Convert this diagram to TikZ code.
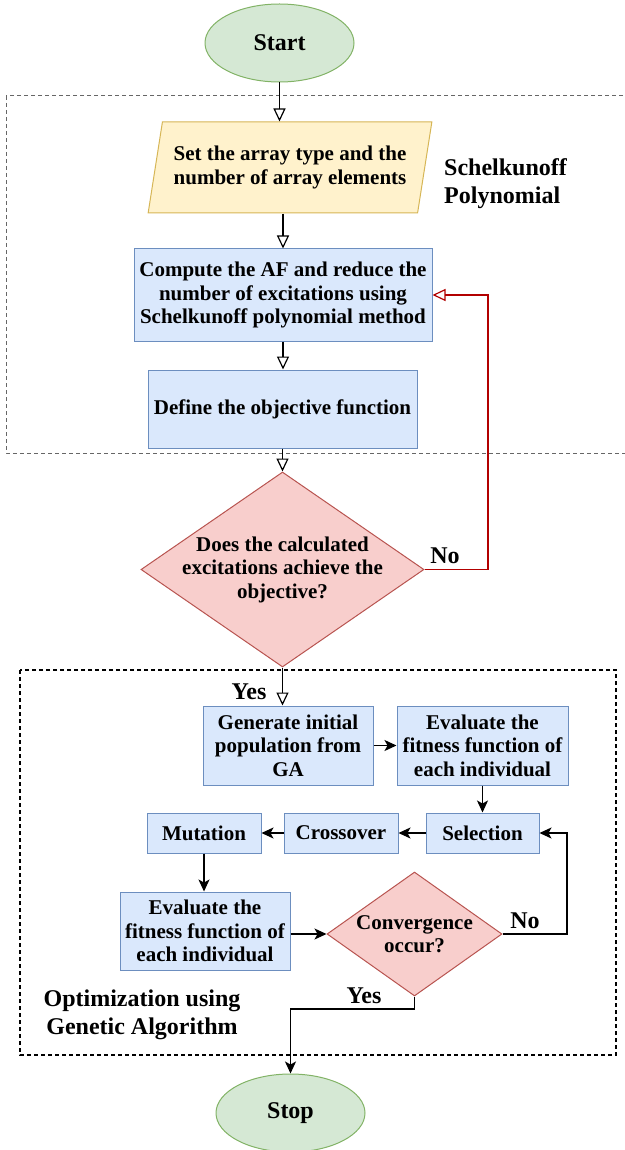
\documentclass[tikz,border=0pt]{standalone}
\usepackage{fontspec}
\setmainfont{Liberation Serif}
\usepackage{tikz}
\usetikzlibrary{shapes.geometric,arrows.meta,positioning}

\definecolor{termfill}{HTML}{D5E8D4}
\definecolor{termline}{HTML}{82B366}
\definecolor{inputfill}{HTML}{FFF2CC}
\definecolor{inputline}{HTML}{D6B656}
\definecolor{procfill}{HTML}{DAE8FC}
\definecolor{procline}{HTML}{6C8EBF}
\definecolor{askfill}{HTML}{F8CECC}
\definecolor{askline}{HTML}{B85450}
\definecolor{loopred}{HTML}{B20000}

\newcommand{\boxfont}{\fontsize{21}{23.5}\selectfont\bfseries}
\newcommand{\tagfont}{\fontsize{24}{28}\selectfont\bfseries}

\tikzset{
    term/.style={ellipse, draw=termline, fill=termfill, line width=1pt, inner sep=0pt, font=\tagfont},
    proc/.style={rectangle, draw=procline, fill=procfill, line width=1pt, inner sep=0pt, align=center, font=\boxfont},
    ask/.style={diamond, draw=askline, fill=askfill, line width=1pt, inner sep=-18pt, align=center, font=\boxfont},
    tag/.style={inner sep=0pt, align=center, font=\tagfont},
    openarrow/.style={line width=1.2pt, -{Triangle[open, length=13pt, width=12pt]}},
    fillarrow/.style={line width=1.2pt, -{Stealth[length=12pt, width=11pt, inset=3pt]}},
}

\begin{document}
\begin{tikzpicture}[x=1pt, y=-1pt]

        \useasboundingbox (0,0) rectangle (624,1150);

        \draw[black!60, line width=1pt, dash pattern=on 4pt off 3pt] (6,96) rectangle (640,453);

        \draw[black, line width=1.2pt, dash pattern=on 4pt off 3pt] (20,670) rectangle (616,1055);

        \node[term, minimum width=149pt, minimum height=78pt] (start) at (279.5,43) {Start};

        \node[trapezium, trapezium left angle=73, trapezium right angle=107, trapezium stretches=true,
              draw=inputline, fill=inputfill, line width=1pt, inner sep=0pt, align=center, font=\boxfont,
              minimum width=284pt, minimum height=91pt] (setarray) at (290,167.5)
              {Set the array type and the\\number of array elements};

        \node[tag, anchor=west, align=left] (schel) at (444,184) {Schelkunoff\\Polynomial};

        \node[proc, minimum width=298pt, minimum height=92pt] (compute) at (283,295)
              {Compute the AF and reduce the\\number of excitations using\\Schelkunoff polynomial method};

        \node[proc, minimum width=269pt, minimum height=78pt] (objective) at (282.5,409)
              {Define the objective function};

        \node[ask, aspect=1.45, minimum width=283pt, minimum height=195pt] (check) at (282.5,569.5)
              {Does the calculated\\excitations achieve the\\objective?};

        \node[tag] (notag) at (445,556) {No};

        \node[tag] (yestag) at (249,692) {Yes};

        \node[proc, minimum width=170pt, minimum height=79pt] (generate) at (288,745.5)
              {Generate initial\\population from\\GA};

        \node[proc, minimum width=171pt, minimum height=79pt] (evalone) at (482.5,745.5)
              {Evaluate the\\fitness function of\\each individual};

        \node[proc, minimum width=113pt, minimum height=40pt] (select) at (482.5,833) {Selection};

        \node[proc, minimum width=114pt, minimum height=40pt] (cross) at (341,833) {Crossover};

        \node[proc, minimum width=114pt, minimum height=40pt] (mutate) at (204,833) {Mutation};

        \node[proc, minimum width=170pt, minimum height=78pt] (evaltwo) at (205,931)
              {Evaluate the\\fitness function of\\each individual};

        \node[ask, aspect=1.41, minimum width=175pt, minimum height=124pt] (conv) at (414.5,934)
              {Convergence\\occur?};

        \node[tag] (convno) at (525,921) {No};

        \node[tag] (convyes) at (364,996) {Yes};

        \node[tag] (optim) at (142,1015) {Optimization using\\Genetic Algorithm};

        \node[term, minimum width=149pt, minimum height=78pt] (stop) at (290.5,1113) {Stop};

        % turning points of the loops
        \coordinate (noturn) at (488,569.5);
        \coordinate (loopturn) at (567,934);
        \coordinate (yesturn) at (414.5,1009);

        \draw[openarrow] (start.south) -- (start.south |- setarray.north);

        \draw[openarrow] (setarray.south -| compute.north) -- (compute.north);

        \draw[openarrow] (compute.south) -- (compute.south |- objective.north);

        \draw[openarrow] (objective.south) -- (objective.south |- check.north);

        \draw[openarrow, loopred] (check.east) -- (noturn) |- (compute.east);

        \draw[openarrow] (check.south) -- (check.south |- generate.north);

        \draw[fillarrow] (generate) -- (evalone);

        \draw[fillarrow] (evalone) -- (select);

        \draw[fillarrow] (select) -- (cross);

        \draw[fillarrow] (cross) -- (mutate);

        \draw[fillarrow] (mutate.south) -- (mutate.south |- evaltwo.north);

        \draw[fillarrow] (evaltwo.east |- conv.west) -- (conv.west);

        \draw[fillarrow] (conv.east) -- (loopturn) |- (select.east);

        \draw[fillarrow] (conv.south) -- (yesturn) -| (stop.north);

    \end{tikzpicture}
\end{document}
